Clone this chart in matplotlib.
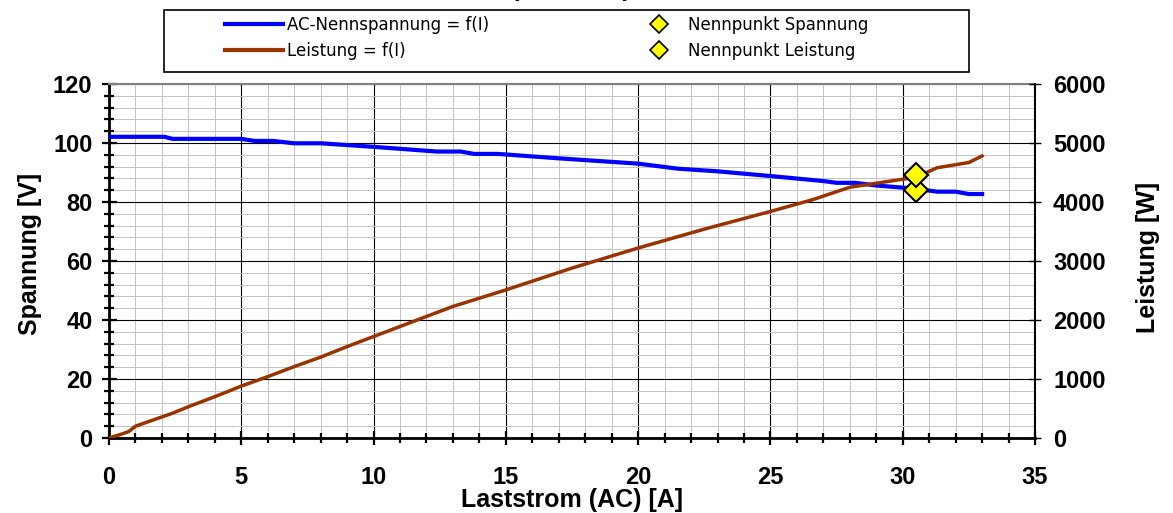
import matplotlib
matplotlib.use('Agg')
import matplotlib.pyplot as plt
from matplotlib.lines import Line2D
from matplotlib.patches import Rectangle
from matplotlib.ticker import MultipleLocator

# voltage curve
strom_u = [0, 2.1, 2.4, 5.0, 5.5, 6.2, 7.0, 8.0, 10, 12.4, 13.3, 13.8, 14.7, 17, 20,
           21.5, 23, 25, 27, 27.5, 28.2, 29, 30.5, 31.3, 32.0, 32.5, 33]
spannung = [102.1, 102.1, 101.4, 101.4, 100.7, 100.7, 99.9, 99.9, 98.7, 97.1, 97.1, 96.3,
            96.3, 94.8, 93.0, 91.3, 90.4, 88.8, 87.1, 86.5, 86.5, 85.6, 84.5, 83.5, 83.5,
            82.7, 82.7]

# power curve
strom_p = [0, 0.5, 0.75, 1.0, 2.4, 3, 4, 5, 6, 7, 8, 9, 10, 11, 12, 13, 14, 15, 17.5,
           20, 22.5, 25, 26.6, 28, 30.5, 31.3, 32.5, 33]
leistung = [0, 70, 110, 200, 420, 530, 700, 880, 1040, 1210, 1370, 1550, 1720, 1890, 2060,
            2230, 2370, 2510, 2880, 3220, 3540, 3840, 4040, 4250, 4420, 4580, 4670, 4780]

# rated point
i_nenn = [30.5]
u_nenn = [84.2]
p_nenn = [4466]

W, H = 1173, 513
fig = plt.figure(figsize=(W / 100, H / 100), dpi=100)
ax = fig.add_axes([109 / W, 1 - 438 / H, (1035 - 109) / W, (438 - 84) / H])
ax2 = ax.twinx()

blue = '#0000ff'
brown = '#993300'
tick_font = matplotlib.font_manager.FontProperties(family='Liberation Sans', weight='bold', size=17)
lab_font = dict(family='Liberation Sans', weight='bold', size=18)

ax.plot(strom_u, spannung, color=blue, lw=3, zorder=3, solid_joinstyle='round')
ax.plot(i_nenn, u_nenn, ls='none', marker='D', ms=12, mfc='#ffff00', mec='black', mew=1.5,
        zorder=5)
ax2.plot(strom_p, leistung, color=brown, lw=2.5, zorder=3, solid_joinstyle='round')
ax2.plot(i_nenn, p_nenn, ls='none', marker='D', ms=12, mfc='#ffff00', mec='black', mew=1.5,
         zorder=4)

ax.set_xlim(0, 35)
ax.set_ylim(0, 120)
ax2.set_ylim(0, 6000)

ax.xaxis.set_major_locator(MultipleLocator(5))
ax.xaxis.set_minor_locator(MultipleLocator(1))
ax.yaxis.set_major_locator(MultipleLocator(20))
ax.yaxis.set_minor_locator(MultipleLocator(4))
ax2.yaxis.set_major_locator(MultipleLocator(1000))

ax.grid(which='minor', color='#c4c4c4', lw=0.7)
ax.grid(which='major', color='black', lw=0.8)
ax.set_axisbelow(True)

ax.tick_params(axis='x', which='major', direction='inout', length=9.4, width=1.6, pad=15.5)
ax.tick_params(axis='x', which='minor', direction='inout', length=7.2, width=1.6)
ax.tick_params(axis='y', which='major', direction='inout', length=10.8, width=1.6, pad=6.5)
ax.tick_params(axis='y', which='minor', direction='inout', length=7.2, width=1.6)
ax2.tick_params(axis='y', which='major', direction='inout', length=9, width=1.0, pad=8.5)

for a in (ax, ax2):
    for t in a.get_xticklabels() + a.get_yticklabels():
        t.set_fontproperties(tick_font)

ax.spines['left'].set_linewidth(2)
ax.spines['bottom'].set_linewidth(2)
ax.spines['top'].set_color('#808080')
ax.spines['top'].set_linewidth(1.5)
ax.spines['right'].set_visible(False)
ax2.spines['right'].set_linewidth(1.5)
ax2.spines['top'].set_visible(False)
ax2.spines['left'].set_visible(False)
ax2.spines['bottom'].set_visible(False)

ax.set_xlabel('Laststrom (AC) [A]', fontdict=lab_font, va='baseline')
ax.set_ylabel('Spannung [V]', fontdict=lab_font)
ax2.set_ylabel('Leistung [W]', fontdict=lab_font)
ax.xaxis.set_label_coords(0.5, (438 - 507.5) / 354)
ax.yaxis.set_label_coords((42 - 109) / 926, 0.52)
ax2.yaxis.set_label_coords((1136 - 109) / 926, 0.51)

# title, mostly cut off at the top edge
fig.text(571 / W, 1 + 4 / H, '(AC-Seite)', ha='center', va='baseline',
         family='Liberation Sans', weight='bold', size=18)

# legend frame
fig.patches.append(Rectangle((164 / W, 1 - 72 / H), (969 - 164) / W, 62 / H,
                             transform=fig.transFigure, fill=False, ec='black', lw=1.2))

h1 = [Line2D([], [], color=blue, lw=3), Line2D([], [], color=brown, lw=3)]
fig.legend(h1, ['AC-Nennspannung = f(I)', 'Leistung = f(I)'], loc='center left',
           bbox_to_anchor=(225 / W, 1 - 38 / H), frameon=False, borderpad=0,
           borderaxespad=0, handlelength=3.5, handletextpad=0.2, fontsize=12,
           labelspacing=0.45)
h2 = [Line2D([], [], ls='none', marker='D', ms=9, mfc='#ffff00', mec='black', mew=1.2),
      Line2D([], [], ls='none', marker='D', ms=9, mfc='#ffff00', mec='black', mew=1.2)]
fig.legend(h2, ['Nennpunkt Spannung', 'Nennpunkt Leistung'], loc='center left',
           bbox_to_anchor=(646 / W, 1 - 38 / H), frameon=False, borderpad=0,
           borderaxespad=0, handlelength=1.5, handletextpad=1.0, fontsize=12,
           labelspacing=0.45)

fig.savefig('out.png', dpi=100, facecolor='white')
